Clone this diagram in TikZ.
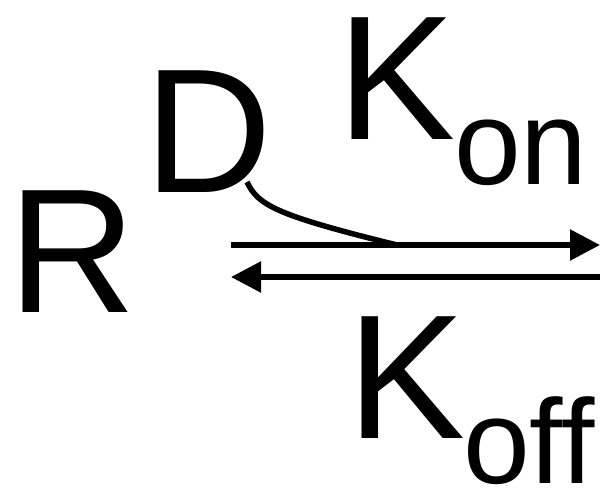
\documentclass[tikz,border=0pt]{standalone}
\usepackage{fontspec}
\setmainfont{Liberation Sans}
\usetikzlibrary{arrows.meta}
\begin{document}
\begin{tikzpicture}[x=1pt,y=1pt,
  big/.style={inner sep=0pt,anchor=base west,font=\fontsize{177}{177}\selectfont},
  small/.style={inner sep=0pt,anchor=base west,font=\fontsize{120}{120}\selectfont},
  arr/.style={line width=5.5pt,-{Triangle[length=30pt,width=30pt]}},
  link/.style={line width=5.5pt}]
\useasboundingbox (0,0) rectangle (605,490);
\node[big] (R) at (8,177) {R};
\node[big] (D) at (144,297) {D};
\node[big] (K1) at (337,350) {K};
\node[small] (on) at (454,305) {on};
\node[big] (K2) at (347,51) {K};
\node[small] (off) at (463,7) {off};
\coordinate (a1) at (231,245);
\coordinate (a2) at (600,245);
\coordinate (b1) at (600,213);
\coordinate (b2) at (231,213);
\coordinate (ds) at (247,308);
\coordinate (dj) at (397,245);
\draw[arr] (a1) -- (a2);
\draw[arr] (b1) -- (b2);
\draw[link] (ds) .. controls (258,285) and (275,275) .. (dj);
\end{tikzpicture}
\end{document}
